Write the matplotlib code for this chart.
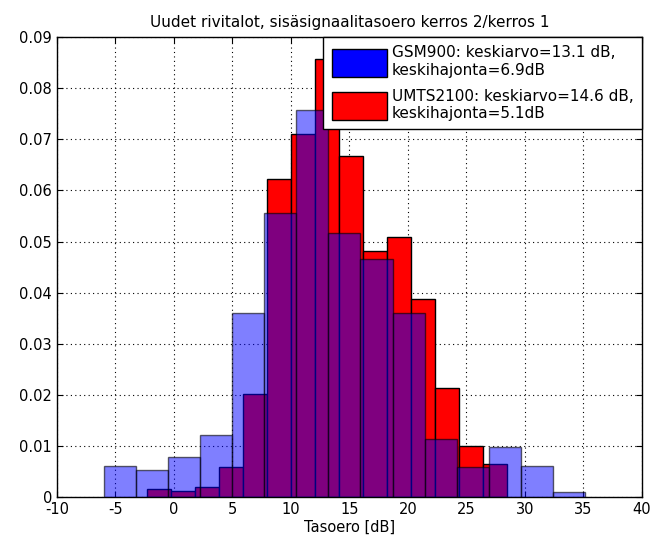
import numpy as np
import matplotlib.pyplot as plt
from matplotlib.patches import Patch

plt.rcParams['font.family'] = ['DejaVu Sans']
plt.rcParams['axes.unicode_minus'] = False

# histogram bin edges (15 bins each) and normalised heights
gsm_edges = [-6.0, -3.26, -0.51, 2.23, 4.97, 7.71, 10.46, 13.2, 15.94,
             18.69, 21.43, 24.17, 26.91, 29.66, 32.4, 35.14]
gsm_vals = [0.0061, 0.0053, 0.0079, 0.0122, 0.0360, 0.0556, 0.0757, 0.0517,
            0.0466, 0.0360, 0.0113, 0.0060, 0.0099, 0.0061, 0.0010]

umts_edges = [-2.27, -0.22, 1.83, 3.88, 5.93, 7.98, 10.03, 12.08, 14.13,
              16.18, 18.23, 20.28, 22.33, 24.38, 26.43, 28.48]
umts_vals = [0.0016, 0.0013, 0.0021, 0.0059, 0.0202, 0.0622, 0.0710, 0.0858,
             0.0667, 0.0482, 0.0508, 0.0387, 0.0214, 0.0101, 0.0066]

labels = ['GSM900: keskiarvo=13.1 dB,\nkeskihajonta=6.9dB',
          'UMTS2100: keskiarvo=14.6 dB,\nkeskihajonta=5.1dB']

fig = plt.figure(figsize=(6.53, 5.51), dpi=100)
ax = fig.add_axes([0.087, 0.0975, 0.896, 0.8353])

# red first (opaque), blue translucent on top -> purple overlap
ue = np.array(umts_edges)
ax.bar(ue[:-1], umts_vals, width=np.diff(ue), align='edge',
       color='red', edgecolor='black', linewidth=1.0, zorder=2)
ge = np.array(gsm_edges)
ax.bar(ge[:-1], gsm_vals, width=np.diff(ge), align='edge',
       color=(0, 0, 1, 0.5), edgecolor=(0, 0, 0, 0.6), linewidth=1.0, zorder=3)

ax.set_xlim(-10, 40)
ax.set_ylim(0, 0.09)
ax.set_xticks(np.arange(-10, 41, 5))
ax.set_yticks(np.arange(0, 0.0901, 0.01))
ax.set_yticklabels(['0'] + ['%.2f' % v for v in np.arange(0.01, 0.0901, 0.01)])
ax.set_axisbelow(True)
ax.grid(True, linestyle=(0, (1, 3)), color='black', linewidth=0.8)
ax.tick_params(direction='in', top=True, right=True, labelsize=10.5, length=4)
for s in ax.spines.values():
    s.set_linewidth(1.0)

ax.set_title('Uudet rivitalot, sisäsignaalitasoero kerros 2/kerros 1', fontsize=11, pad=7)
ax.set_xlabel('Tasoero [dB]', fontsize=10.5, labelpad=2)

handles = [Patch(facecolor='blue', edgecolor='black'),
           Patch(facecolor='red', edgecolor='black')]
leg = ax.legend(handles, labels, loc='upper right', fontsize=11,
                handlelength=3.6, handleheight=2.4, handletextpad=0.33,
                borderpad=0.55, labelspacing=0.7, fancybox=False, framealpha=1,
                edgecolor='black', borderaxespad=0.0)
leg.get_frame().set_linewidth(1.0)
leg.set_zorder(5)

fig.savefig('out.png', dpi=100)
